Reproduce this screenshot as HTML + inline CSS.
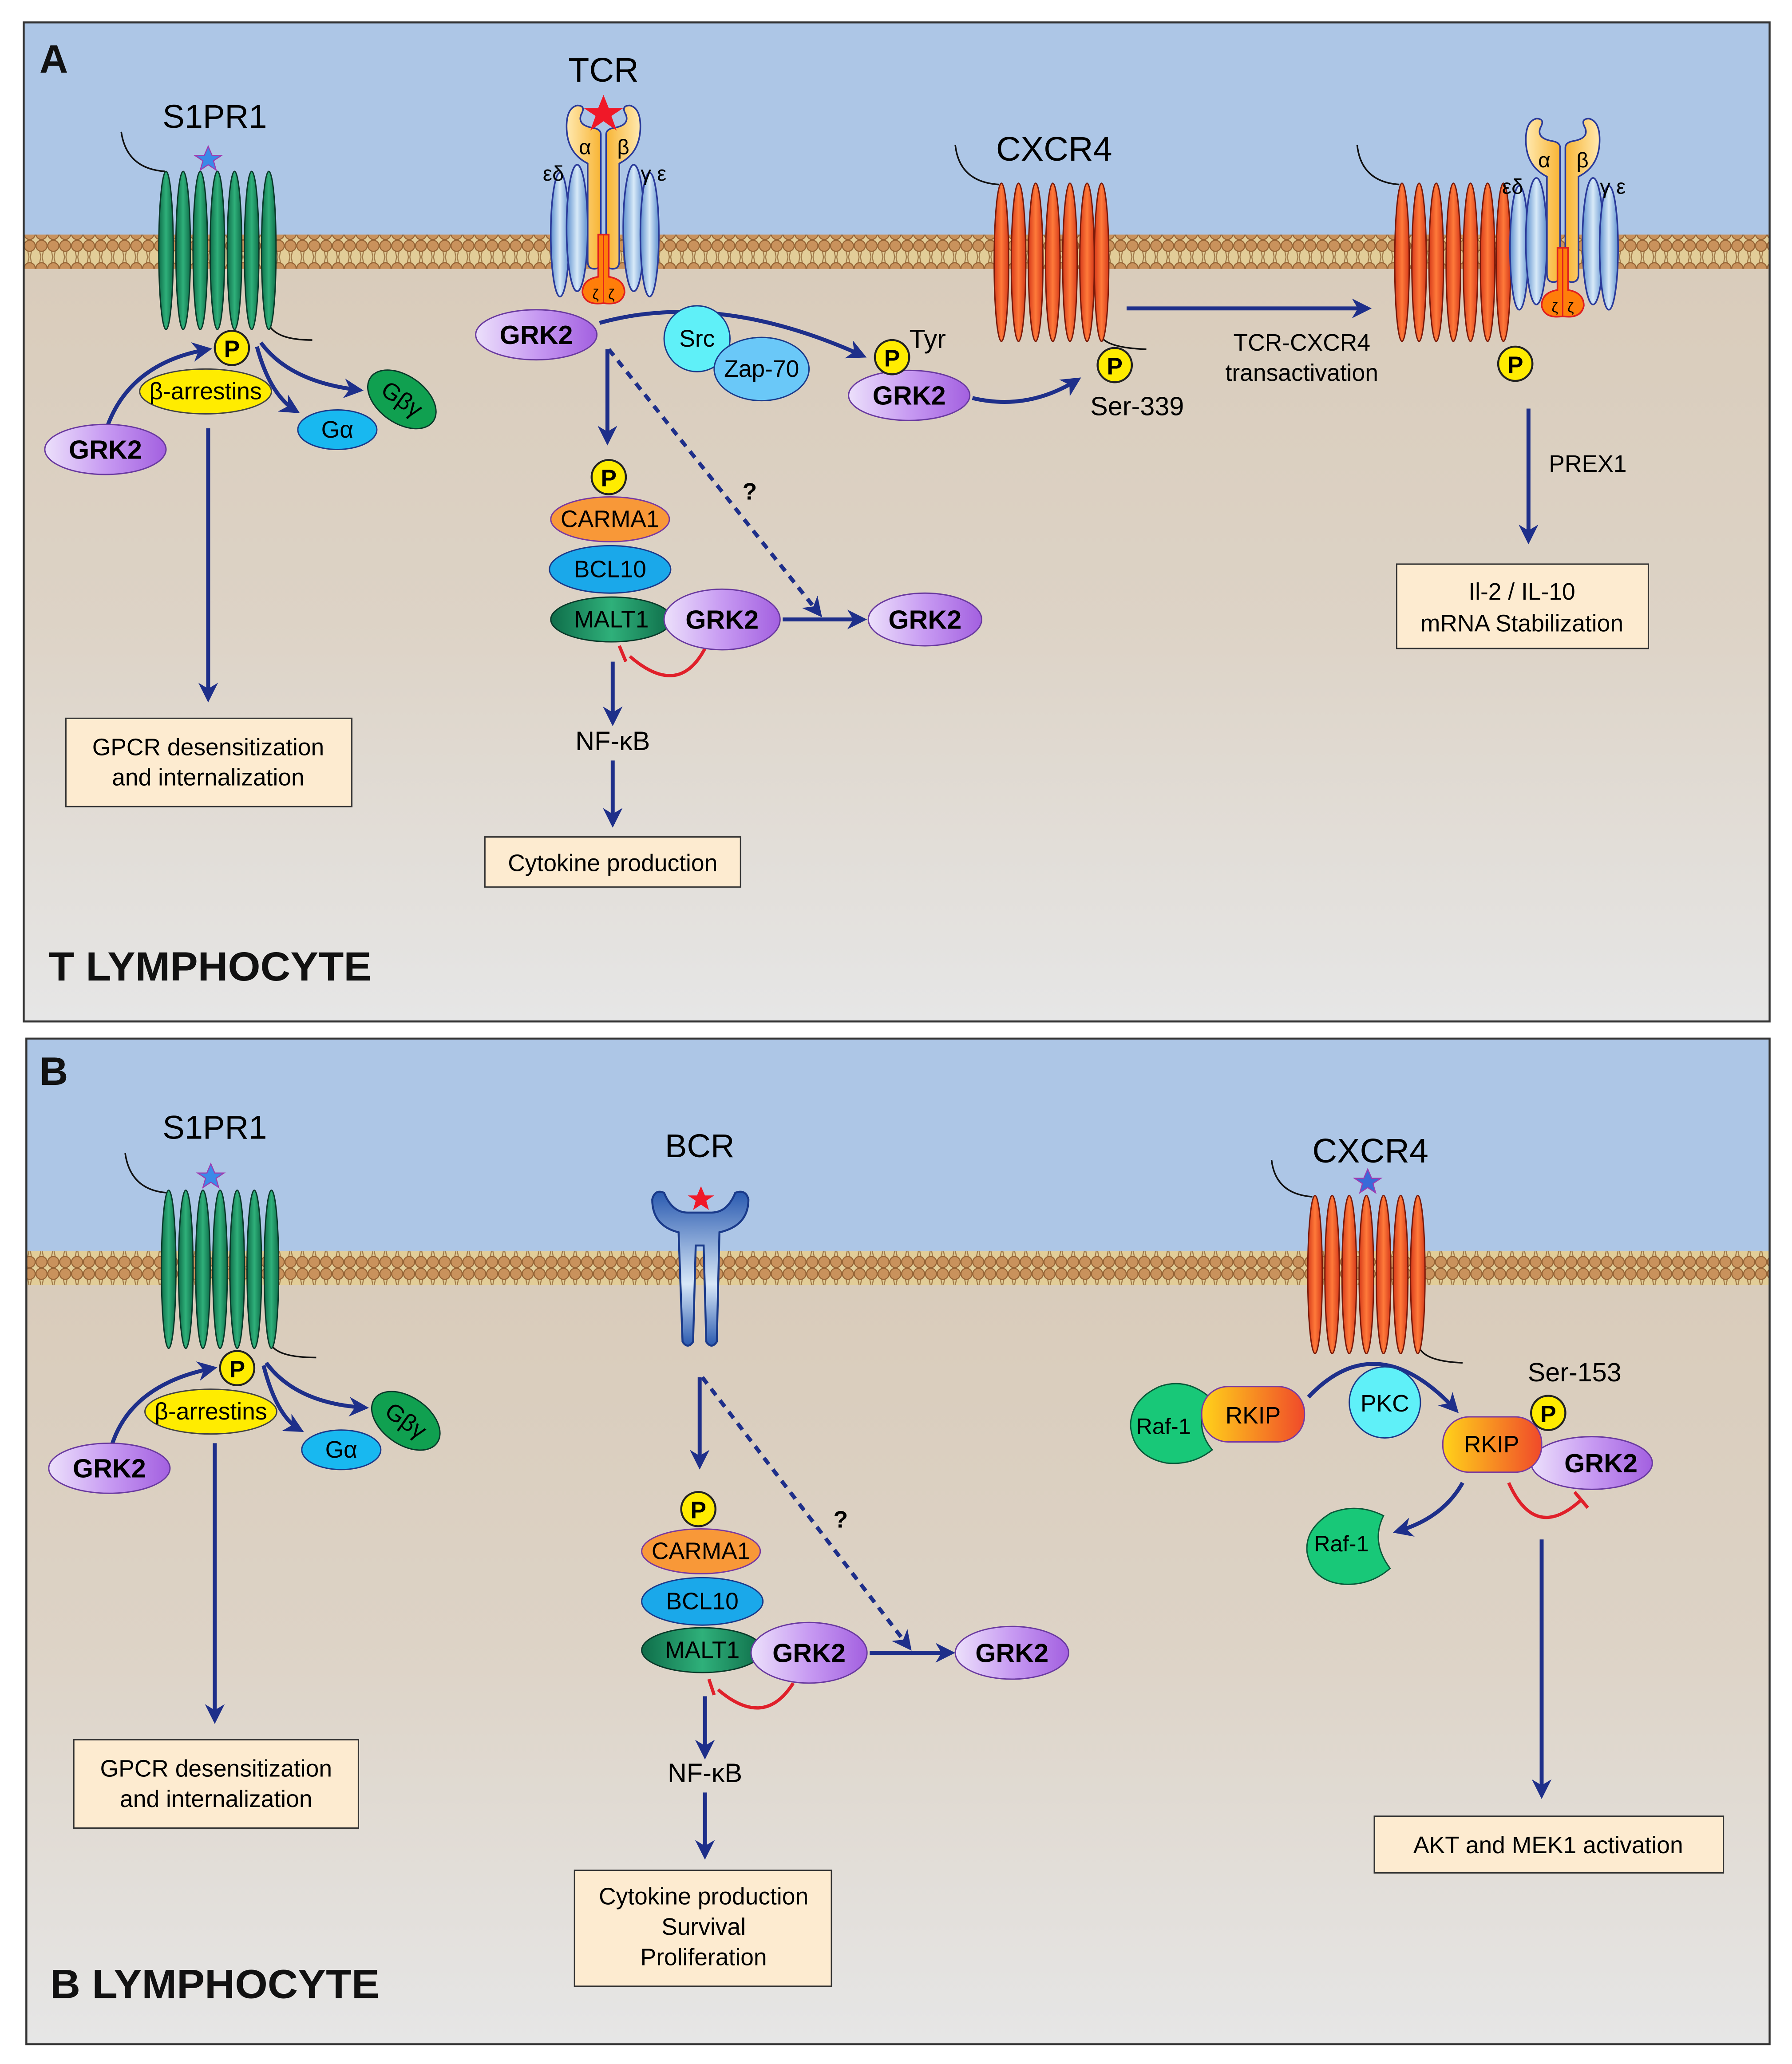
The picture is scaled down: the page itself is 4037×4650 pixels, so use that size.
<!DOCTYPE html>
<html><head><meta charset="utf-8"><style>html,body{margin:0;padding:0;background:#fff}svg{display:block}text{font-family:"Liberation Sans",sans-serif}</style></head><body>
<svg width="4037" height="4650" viewBox="0 0 1360 1566" preserveAspectRatio="none" xmlns="http://www.w3.org/2000/svg">
<defs>
<linearGradient id="cyto" x1="0" y1="0" x2="0" y2="1"><stop offset="0" stop-color="#c3b3a2"/><stop offset="0.15" stop-color="#d8cab8"/><stop offset="0.6" stop-color="#ddd3c6"/><stop offset="1" stop-color="#e6e6e6"/></linearGradient>
<pattern id="mem" width="9" height="26" patternUnits="userSpaceOnUse">
<rect width="9" height="26" fill="#e2cd98"/>
<path d="M3 8 L4 13 L3 18 M6 8 L5 13 L6 18" stroke="#a07a4a" stroke-width="0.8" fill="none"/>
<circle cx="4.5" cy="4.5" r="4.2" fill="#c9925c" stroke="#956335" stroke-width="0.8"/>
<circle cx="4.5" cy="21.5" r="4.2" fill="#c9925c" stroke="#956335" stroke-width="0.8"/>
</pattern>
<linearGradient id="grk" x1="0" y1="0" x2="1" y2="0"><stop offset="0" stop-color="#ece0fb"/><stop offset="0.5" stop-color="#c79af2"/><stop offset="1" stop-color="#a360e0"/></linearGradient>
<linearGradient id="gblue" x1="0" y1="0" x2="1" y2="0"><stop offset="0" stop-color="#5d8fcf"/><stop offset="0.5" stop-color="#d8eaf8"/><stop offset="1" stop-color="#5d8fcf"/></linearGradient>
<linearGradient id="gyel" x1="0" y1="0" x2="1" y2="0"><stop offset="0" stop-color="#ffe9b0"/><stop offset="1" stop-color="#f8b535"/></linearGradient>
<linearGradient id="gyel2" x1="1" y1="0" x2="0" y2="0"><stop offset="0" stop-color="#ffe9b0"/><stop offset="1" stop-color="#f8b535"/></linearGradient>
<linearGradient id="ggreen" x1="0" y1="0" x2="1" y2="0"><stop offset="0" stop-color="#0f6e4a"/><stop offset="0.5" stop-color="#2fb07a"/><stop offset="1" stop-color="#0f6e4a"/></linearGradient>
<linearGradient id="gor" x1="0" y1="0" x2="1" y2="0"><stop offset="0" stop-color="#d63a1a"/><stop offset="0.5" stop-color="#ff7a3a"/><stop offset="1" stop-color="#d63a1a"/></linearGradient>
<linearGradient id="rkip" x1="0" y1="0" x2="1" y2="0"><stop offset="0" stop-color="#ffd21a"/><stop offset="1" stop-color="#f04a2a"/></linearGradient>
<linearGradient id="bcr" x1="0" y1="0" x2="0" y2="1"><stop offset="0" stop-color="#2a5ab0"/><stop offset="0.6" stop-color="#d8e8f8"/><stop offset="1" stop-color="#2a5ab0"/></linearGradient>
<marker id="ar" viewBox="0 0 10 10" refX="8" refY="5" markerWidth="5" markerHeight="5" orient="auto"><path d="M0 0 L10 5 L0 10 L3 5 Z" fill="#1e2f8a"/></marker>
<g id="s1p"><ellipse cx="0" cy="0" rx="5.5" ry="60" fill="url(#ggreen)" stroke="#0a3a2a" stroke-width="1"/></g>
<g id="cx"><ellipse cx="0" cy="0" rx="5.5" ry="60" fill="url(#gor)" stroke="#7a1a0a" stroke-width="1"/></g>
<g id="tcr">
<ellipse cx="-33" cy="178" rx="7" ry="47" fill="url(#gblue)" stroke="#2a3a9a" stroke-width="1.2"/>
<ellipse cx="-20" cy="173" rx="8" ry="48" fill="url(#gblue)" stroke="#2a3a9a" stroke-width="1.2"/>
<ellipse cx="23" cy="173" rx="8" ry="48" fill="url(#gblue)" stroke="#2a3a9a" stroke-width="1.2"/>
<ellipse cx="35" cy="178" rx="7" ry="47" fill="url(#gblue)" stroke="#2a3a9a" stroke-width="1.2"/>
<path d="M-2 102 L-2 198 Q-2 204 -7 204 Q-12 204 -12 198 L-12 124 Q-28 116 -28 96 Q-28 82 -20 80 Q-13 80 -17 87 Q-20 95 -8 97 Q-2 98 -2 102 Z" fill="url(#gyel)" stroke="#2a3a9a" stroke-width="1.2"/>
<path d="M2 102 L2 198 Q2 204 7 204 Q12 204 12 198 L12 124 Q28 116 28 96 Q28 82 20 80 Q13 80 17 87 Q20 95 8 97 Q2 98 2 102 Z" fill="url(#gyel2)" stroke="#2a3a9a" stroke-width="1.2"/>
<path d="M-4 178 L-4 210 Q-16 212 -16 222 Q-14 232 0 230 Q14 232 16 222 Q16 212 4 210 L4 178 Z" fill="#ff7e0a" stroke="#e02020" stroke-width="1.2"/>
<line x1="0" y1="178" x2="0" y2="230" stroke="#e02020" stroke-width="1"/>
<text x="-6" y="227" font-size="11" text-anchor="middle">ζ</text><text x="6" y="227" font-size="11" text-anchor="middle">ζ</text>
<text x="-14" y="117" font-size="16" text-anchor="middle">α</text><text x="15" y="117" font-size="16" text-anchor="middle">β</text>
<text x="-38" y="137" font-size="16" text-anchor="middle">εδ</text><text x="38" y="137" font-size="16" text-anchor="middle">γ ε</text>
</g>
</defs>
<!-- Panel A -->
<rect x="18" y="17" width="1325" height="758" fill="url(#cyto)"/>
<rect x="18" y="17" width="1325" height="173" fill="#adc6e6"/>
<rect x="18" y="178" width="1325" height="26" fill="url(#mem)"/>
<rect x="18" y="17" width="1325" height="758" fill="none" stroke="#333" stroke-width="1.5"/>
<!-- Panel B -->
<rect x="20" y="788" width="1323" height="763" fill="url(#cyto)"/>
<rect x="20" y="788" width="1323" height="173" fill="#adc6e6"/>
<rect x="20" y="949" width="1323" height="26" fill="url(#mem)"/>
<rect x="20" y="788" width="1323" height="763" fill="none" stroke="#333" stroke-width="1.5"/>

<g font-size="19" fill="#111">
<text x="30" y="55" font-size="30" font-weight="bold">A</text>
<text x="30" y="823" font-size="30" font-weight="bold">B</text>
<text x="37" y="744" font-size="31" font-weight="bold" textLength="245" lengthAdjust="spacingAndGlyphs">T LYMPHOCYTE</text>
<text x="38" y="1516" font-size="31" font-weight="bold" textLength="250" lengthAdjust="spacingAndGlyphs">B LYMPHOCYTE</text>
</g>

<!-- A: S1PR1 -->
<path d="M92 100 Q96 128 125 130" fill="none" stroke="#111" stroke-width="1.2"/>
<path d="M205 248 Q212 258 237 258" fill="none" stroke="#111" stroke-width="1.2"/>
<use href="#s1p" x="126" y="190"/><use href="#s1p" x="139" y="190"/><use href="#s1p" x="152" y="190"/><use href="#s1p" x="165" y="190"/><use href="#s1p" x="178" y="190"/><use href="#s1p" x="191" y="190"/><use href="#s1p" x="204" y="190"/>
<text x="163" y="97" font-size="25" text-anchor="middle">S1PR1</text>
<polygon points="158,111 161,118 168,118 162,122 164,129 158,125 152,129 154,122 148,118 155,118" fill="#3a8ae8" stroke="#a03ab0" stroke-width="0.8"/>

<!-- B: S1PR1 -->
<path d="M95 875 Q99 903 127 905" fill="none" stroke="#111" stroke-width="1.2"/>
<path d="M207 1022 Q214 1030 240 1030" fill="none" stroke="#111" stroke-width="1.2"/>
<use href="#s1p" x="128" y="963"/><use href="#s1p" x="141" y="963"/><use href="#s1p" x="154" y="963"/><use href="#s1p" x="167" y="963"/><use href="#s1p" x="180" y="963"/><use href="#s1p" x="193" y="963"/><use href="#s1p" x="206" y="963"/>
<text x="163" y="864" font-size="25" text-anchor="middle">S1PR1</text>
<polygon points="160,883 163,890 170,890 164,894 166,901 160,897 154,901 156,894 150,890 157,890" fill="#3a8ae8" stroke="#a03ab0" stroke-width="0.8"/>

<!-- A CXCR4 -->
<path d="M725 110 Q728 138 758 140" fill="none" stroke="#111" stroke-width="1.2"/>
<path d="M836 256 Q842 264 870 265" fill="none" stroke="#111" stroke-width="1.2"/>
<use href="#cx" x="760" y="199"/><use href="#cx" x="773" y="199"/><use href="#cx" x="786" y="199"/><use href="#cx" x="799" y="199"/><use href="#cx" x="812" y="199"/><use href="#cx" x="825" y="199"/><use href="#cx" x="836" y="199"/>
<text x="800" y="122" font-size="26" text-anchor="middle">CXCR4</text>
<!-- complex -->
<path d="M1030 110 Q1033 138 1062 140" fill="none" stroke="#111" stroke-width="1.2"/>
<use href="#cx" x="1064" y="199"/><use href="#cx" x="1077" y="199"/><use href="#cx" x="1090" y="199"/><use href="#cx" x="1103" y="199"/><use href="#cx" x="1116" y="199"/><use href="#cx" x="1129" y="199"/><use href="#cx" x="1141" y="199"/>
<use href="#tcr" x="1186" y="10"/>
<!-- TCR -->
<use href="#tcr" x="458" y="0"/>
<polygon points="458,72 462,82 473,82 464,88 468,99 458,92 448,99 452,88 443,82 454,82" fill="#f01828"/>
<text x="458" y="62" font-size="26" text-anchor="middle">TCR</text>

<!-- B CXCR4 -->
<path d="M965 880 Q968 906 996 908" fill="none" stroke="#111" stroke-width="1.2"/>
<path d="M1078 1024 Q1084 1033 1110 1034" fill="none" stroke="#111" stroke-width="1.2"/>
<use href="#cx" x="998" y="967"/><use href="#cx" x="1011" y="967"/><use href="#cx" x="1024" y="967"/><use href="#cx" x="1037" y="967"/><use href="#cx" x="1050" y="967"/><use href="#cx" x="1063" y="967"/><use href="#cx" x="1076" y="967"/>
<text x="1040" y="882" font-size="26" text-anchor="middle">CXCR4</text>
<polygon points="1038,887 1041,894 1048,894 1042,898 1044,905 1038,901 1032,905 1034,898 1028,894 1035,894" fill="#3a6ad8" stroke="#a03ab0" stroke-width="0.8"/>

<!-- BCR -->
<path d="M495 910 Q495 930 515 935 L518 1018 Q522 1024 526 1018 L528 945 L534 945 L536 1018 Q540 1024 544 1018 L546 935 Q568 930 568 910 Q566 902 558 905 Q552 920 540 920 L522 920 Q510 920 504 905 Q497 902 495 910 Z" fill="url(#bcr)" stroke="#1a3a8a" stroke-width="1.5"/>
<polygon points="532,900 535,907 542,907 536,911 538,918 532,914 526,918 528,911 522,907 529,907" fill="#f01828"/>
<text x="531" y="878" font-size="25" text-anchor="middle">BCR</text>

<!-- arrows -->
<g stroke="#1e2f8a" stroke-width="3" fill="none" marker-end="url(#ar)">
<path d="M82 322 Q100 275 158 265"/>
<path d="M195 263 Q205 300 225 312"/>
<path d="M198 260 Q220 290 273 296"/>
<path d="M158 325 L158 530"/>
<path d="M455 245 Q545 220 655 270"/>
<path d="M738 302 Q780 312 818 288"/>
<path d="M855 234 L1038 234"/>
<path d="M1160 310 L1160 410"/>
<path d="M461 265 L461 335"/>
<path d="M462 265 L622 466" stroke-dasharray="6,5"/>
<path d="M594 470 L655 470"/>
<path d="M465 502 L465 548"/>
<path d="M465 577 L465 625"/>
<path d="M85 1096 Q100 1050 162 1038"/>
<path d="M200 1036 Q210 1075 228 1085"/>
<path d="M202 1034 Q225 1065 277 1068"/>
<path d="M163 1095 L163 1305"/>
<path d="M531 1045 L531 1112"/>
<path d="M533 1045 L690 1250" stroke-dasharray="6,5"/>
<path d="M660 1254 L722 1254"/>
<path d="M535 1287 L535 1332"/>
<path d="M535 1360 L535 1408"/>
<path d="M993 1060 Q1045 1005 1105 1070"/>
<path d="M1110 1125 Q1095 1152 1060 1162"/>
<path d="M1170 1168 L1170 1362"/>
</g>
<!-- inhibitions -->
<g stroke="#e0202a" stroke-width="2.5" fill="none">
<path d="M535 492 Q515 530 478 498"/><path d="M470 490 L475 502"/>
<path d="M602 1277 Q580 1312 545 1282"/><path d="M538 1274 L542 1286"/>
<path d="M1145 1125 Q1165 1170 1200 1138"/><path d="M1195 1132 L1205 1144"/>
</g>

<!-- A molecules -->
<g font-size="18" text-anchor="middle">
<ellipse cx="156" cy="297" rx="50" ry="17" fill="#ffec00" stroke="#444"/><text x="156" y="303">β-arrestins</text>
<ellipse cx="256" cy="326" rx="30" ry="15" fill="#18b8f0" stroke="#1a3a8a"/><text x="256" y="332">Gα</text>
<ellipse cx="305" cy="303" rx="29" ry="18" fill="#10a050" stroke="#0a3a2a" transform="rotate(35 305 303)"/><text x="305" y="309" transform="rotate(35 305 303)">Gβγ</text>
<circle cx="176" cy="264" r="13" fill="#ffec00" stroke="#222" stroke-width="1.5"/><text x="176" y="271" font-weight="bold">P</text>
<ellipse cx="80" cy="341" rx="46" ry="19" fill="url(#grk)" stroke="#6a3aa0"/><text x="80" y="348" font-weight="bold" font-size="20">GRK2</text>
<ellipse cx="407" cy="254" rx="46" ry="19" fill="url(#grk)" stroke="#6a3aa0"/><text x="407" y="261" font-weight="bold" font-size="20">GRK2</text>
<circle cx="529" cy="257" r="25" fill="#5ff0f8" stroke="#1a3a8a"/><text x="529" y="263">Src</text>
<ellipse cx="578" cy="280" rx="36" ry="24" fill="#6ac8f8" stroke="#1a3a8a"/><text x="578" y="286">Zap-70</text>
<ellipse cx="690" cy="300" rx="46" ry="19" fill="url(#grk)" stroke="#6a3aa0"/><text x="690" y="307" font-weight="bold" font-size="20">GRK2</text>
<circle cx="677" cy="271" r="13" fill="#ffec00" stroke="#222" stroke-width="1.5"/><text x="677" y="278" font-weight="bold">P</text>
<text x="704" y="264" font-size="20">Tyr</text>
<circle cx="846" cy="277" r="13" fill="#ffec00" stroke="#222" stroke-width="1.5"/><text x="846" y="284" font-weight="bold">P</text>
<text x="863" y="315" font-size="20">Ser-339</text>
<text x="988" y="266">TCR-CXCR4</text><text x="988" y="289">transactivation</text>
<circle cx="1150" cy="276" r="13" fill="#ffec00" stroke="#222" stroke-width="1.5"/><text x="1150" y="283" font-weight="bold">P</text>
<text x="1205" y="358">PREX1</text>
<rect x="1060" y="428" width="191" height="64" fill="#fdebd0" stroke="#333"/><text x="1155" y="455">Il-2 / IL-10</text><text x="1155" y="479">mRNA Stabilization</text>
<text x="569" y="379" font-weight="bold">?</text>
<ellipse cx="463" cy="394" rx="45" ry="17" fill="#f89838" stroke="#7a3aa0"/><text x="463" y="400">CARMA1</text>
<ellipse cx="463" cy="432" rx="46" ry="18" fill="#1aa8ea" stroke="#1a3a8a"/><text x="463" y="438">BCL10</text>
<ellipse cx="464" cy="470" rx="46" ry="17" fill="url(#ggreen)" stroke="#0a3a2a"/><text x="464" y="476">MALT1</text>
<circle cx="462" cy="362" r="13" fill="#ffec00" stroke="#222" stroke-width="1.5"/><text x="462" y="369" font-weight="bold">P</text>
<ellipse cx="548" cy="470" rx="44" ry="23" fill="url(#grk)" stroke="#6a3aa0"/><text x="548" y="477" font-weight="bold" font-size="20">GRK2</text>
<ellipse cx="702" cy="470" rx="43" ry="20" fill="url(#grk)" stroke="#6a3aa0"/><text x="702" y="477" font-weight="bold" font-size="20">GRK2</text>
<text x="465" y="569" font-size="20">NF-κB</text>
<rect x="368" y="635" width="194" height="38" fill="#fdebd0" stroke="#333"/><text x="465" y="661">Cytokine production</text>
<rect x="50" y="545" width="217" height="67" fill="#fdebd0" stroke="#333"/><text x="158" y="573">GPCR desensitization</text><text x="158" y="596">and internalization</text>
</g>

<!-- B molecules -->
<g font-size="18" text-anchor="middle">
<ellipse cx="160" cy="1071" rx="50" ry="17" fill="#ffec00" stroke="#444"/><text x="160" y="1077">β-arrestins</text>
<ellipse cx="259" cy="1100" rx="30" ry="15" fill="#18b8f0" stroke="#1a3a8a"/><text x="259" y="1106">Gα</text>
<ellipse cx="308" cy="1078" rx="29" ry="18" fill="#10a050" stroke="#0a3a2a" transform="rotate(35 308 1078)"/><text x="308" y="1084" transform="rotate(35 308 1078)">Gβγ</text>
<circle cx="180" cy="1038" r="13" fill="#ffec00" stroke="#222" stroke-width="1.5"/><text x="180" y="1045" font-weight="bold">P</text>
<ellipse cx="83" cy="1114" rx="46" ry="19" fill="url(#grk)" stroke="#6a3aa0"/><text x="83" y="1121" font-weight="bold" font-size="20">GRK2</text>
<rect x="56" y="1320" width="216" height="67" fill="#fdebd0" stroke="#333"/><text x="164" y="1348">GPCR desensitization</text><text x="164" y="1371">and internalization</text>
<text x="638" y="1159" font-weight="bold">?</text>
<ellipse cx="532" cy="1177" rx="45" ry="17" fill="#f89838" stroke="#7a3aa0"/><text x="532" y="1183">CARMA1</text>
<ellipse cx="533" cy="1215" rx="46" ry="18" fill="#1aa8ea" stroke="#1a3a8a"/><text x="533" y="1221">BCL10</text>
<ellipse cx="533" cy="1252" rx="46" ry="17" fill="url(#ggreen)" stroke="#0a3a2a"/><text x="533" y="1258">MALT1</text>
<circle cx="530" cy="1145" r="13" fill="#ffec00" stroke="#222" stroke-width="1.5"/><text x="530" y="1152" font-weight="bold">P</text>
<ellipse cx="614" cy="1254" rx="44" ry="23" fill="url(#grk)" stroke="#6a3aa0"/><text x="614" y="1261" font-weight="bold" font-size="20">GRK2</text>
<ellipse cx="768" cy="1254" rx="43" ry="20" fill="url(#grk)" stroke="#6a3aa0"/><text x="768" y="1261" font-weight="bold" font-size="20">GRK2</text>
<text x="535" y="1352" font-size="20">NF-κB</text>
<rect x="436" y="1419" width="195" height="88" fill="#fdebd0" stroke="#333"/><text x="534" y="1445">Cytokine production</text><text x="534" y="1468">Survival</text><text x="534" y="1491">Proliferation</text>
<!-- Raf/RKIP -->
<path d="M918 1060 Q900 1045 880 1052 Q858 1062 858 1082 Q860 1105 885 1110 Q905 1112 920 1100 Q905 1082 918 1060 Z" fill="#18c878" stroke="#0a5a3a"/><text x="883" y="1088" font-size="17">Raf-1</text>
<rect x="912" y="1052" width="78" height="42" rx="20" fill="url(#rkip)" stroke="#7a3aa0"/><text x="951" y="1080">RKIP</text>
<circle cx="1051" cy="1064" r="27" fill="#5ff0f8" stroke="#1a3a8a"/><text x="1051" y="1071">PKC</text>
<text x="1195" y="1048" font-size="20">Ser-153</text>
<ellipse cx="1208" cy="1110" rx="46" ry="20" fill="url(#grk)" stroke="#6a3aa0"/><text x="1215" y="1117" font-weight="bold" font-size="20">GRK2</text>
<rect x="1095" y="1075" width="75" height="42" rx="20" fill="url(#rkip)" stroke="#7a3aa0"/><text x="1132" y="1102">RKIP</text>
<circle cx="1175" cy="1072" r="13" fill="#ffec00" stroke="#222" stroke-width="1.5"/><text x="1175" y="1079" font-weight="bold">P</text>
<path d="M1050 1150 Q1030 1140 1010 1148 Q990 1160 992 1178 Q996 1200 1020 1202 Q1040 1203 1055 1190 Q1040 1170 1050 1150 Z" fill="#18c878" stroke="#0a5a3a"/><text x="1018" y="1177" font-size="17">Raf-1</text>
<rect x="1043" y="1378" width="265" height="43" fill="#fdebd0" stroke="#333"/><text x="1175" y="1406">AKT and MEK1 activation</text>
</g>
</svg>
</body></html>
